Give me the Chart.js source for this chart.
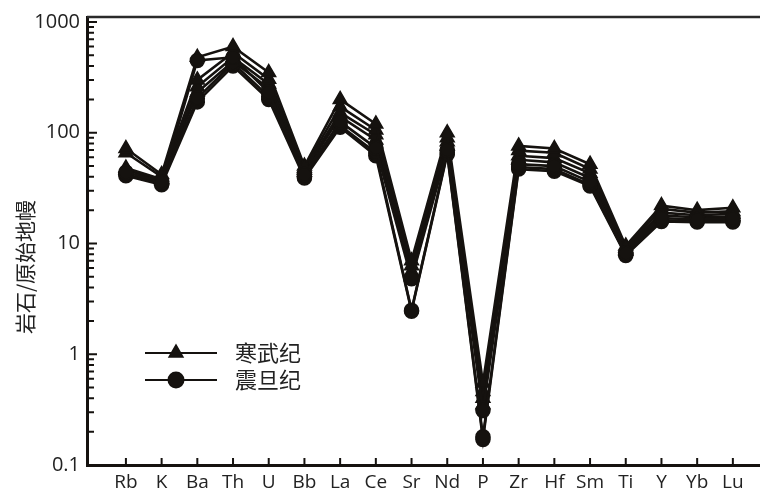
<!DOCTYPE html>
<html>
<head>
<meta charset="utf-8">
<script src="https://cdn.jsdelivr.net/npm/chart.js@4/dist/chart.umd.min.js"></script>
<style>
  html, body { margin: 0; padding: 0; background: #fff; }
  #wrap { width: 760px; height: 490px; }
</style>
</head>
<body>
<div id="wrap"><canvas id="spider" width="760" height="490"></canvas></div>
<script>
const elements = ['Rb', 'K', 'Ba', 'Th', 'U', 'Bb', 'La', 'Ce', 'Sr', 'Nd', 'P', 'Zr', 'Hf', 'Sm', 'Ti', 'Y', 'Yb', 'Lu'];
const yTicks = [0.1, 1, 10, 100, 1000];

// 寒武纪 samples (triangles)
const cambrian1 = [72, 42, 480, 600, 350, 50, 200, 120, 7.0, 100, 0.55, 76, 72, 52, 9.5, 22, 20, 21];
const cambrian2 = [66, 40, 300, 530, 305, 48, 172, 106, 6.3, 90, 0.46, 69, 66, 47, 9.1, 20.5, 19, 19.5];
const cambrian3 = [48, 38, 260, 480, 275, 46, 152, 96, 5.6, 83, 0.40, 62, 59, 43, 8.8, 19, 18, 18.5];
const cambrian4 = [46, 37, 232, 440, 252, 44, 140, 86, 5.0, 76, 0.35, 57, 54, 39, 8.5, 18, 17.2, 17.5];

// 震旦纪 samples (circles)
const sinian1 = [44, 36, 450, 480, 232, 42, 126, 73, 4.8, 70, 0.31, 52, 50, 36, 8.2, 17, 16.5, 16.8];
const sinian2 = [42, 35, 205, 425, 212, 40, 116, 66, 2.5, 66, 0.18, 49, 47, 34, 8.0, 16.2, 16, 16];
const sinian3 = [41, 34, 190, 400, 200, 39, 112, 62, 2.45, 64, 0.17, 47, 45, 33, 7.8, 15.8, 15.6, 15.6];

const ink = '#15120f';

function series(values, shape, radius) {
    return {
        data: values.map((v, i) => ({ x: i + 1, y: v })),
        borderColor: ink,
        backgroundColor: ink,
        borderWidth: 2.6,
        pointStyle: shape,
        pointRadius: radius,
        pointBorderWidth: 1.5,
        tension: 0
    };
}

const ticksInside = {
    id: 'ticksInside',
    afterDraw(chart) {
        const ctx = chart.ctx;
        const area = chart.chartArea;
        const ys = chart.scales.y;
        const xs = chart.scales.x;
        ctx.save();
        ctx.strokeStyle = ink;
        ctx.lineWidth = 2;
        ctx.beginPath();
        for (let d = -1; d <= 3; d++) {
            const base = Math.pow(10, d);
            let py = ys.getPixelForValue(base);
            ctx.moveTo(area.left, py);
            ctx.lineTo(area.left + 10, py);
            if (d < 3) {
                for (let k = 2; k <= 9; k++) {
                    py = ys.getPixelForValue(k * base);
                    ctx.moveTo(area.left, py);
                    ctx.lineTo(area.left + 7, py);
                }
            }
        }
        elements.forEach((el, i) => {
            const px = xs.getPixelForValue(i + 1);
            ctx.moveTo(px, area.bottom);
            ctx.lineTo(px, area.bottom - 7);
        });
        ctx.stroke();

        // top frame line
        ctx.strokeStyle = '#2a2a2a';
        ctx.lineWidth = 2.5;
        ctx.beginPath();
        ctx.moveTo(area.left, area.top);
        ctx.lineTo(chart.width, area.top);
        ctx.stroke();

        // y axis title
        ctx.fillStyle = '#222';
        ctx.font = '21px "Noto Sans CJK SC"';
        ctx.textAlign = 'center';
        ctx.textBaseline = 'middle';
        ctx.translate(25, 267);
        ctx.rotate(-Math.PI / 2);
        ctx.fillText('岩石/原始地幔', 0, 0);
        ctx.restore();
    }
};

const legendInside = {
    id: 'legendInside',
    afterDraw(chart) {
        const ctx = chart.ctx;
        const rows = [
            { label: '寒武纪', shape: 'triangle', y: 353 },
            { label: '震旦纪', shape: 'circle', y: 380 }
        ];
        ctx.save();
        rows.forEach(r => {
            ctx.strokeStyle = ink;
            ctx.fillStyle = ink;
            ctx.lineWidth = 2;
            ctx.beginPath();
            ctx.moveTo(145, r.y);
            ctx.lineTo(217, r.y);
            ctx.stroke();
            Chart.helpers.drawPoint(ctx, { pointStyle: r.shape, radius: 7.5, borderWidth: 1, rotation: 0 }, 176, r.y);
            ctx.fill();
            ctx.fillStyle = '#222';
            ctx.font = '22px "Noto Sans CJK SC"';
            ctx.textAlign = 'left';
            ctx.textBaseline = 'middle';
            ctx.fillText(r.label, 235, r.y);
        });
        ctx.restore();
    }
};

new Chart(document.getElementById('spider'), {
    type: 'line',
    data: {
        datasets: [
            series(sinian1, 'circle', 7),
            series(sinian2, 'circle', 7),
            series(sinian3, 'circle', 7),
            series(cambrian1, 'triangle', 8),
            series(cambrian2, 'triangle', 8),
            series(cambrian3, 'triangle', 8),
            series(cambrian4, 'triangle', 8)
        ]
    },
    options: {
        responsive: false,
        animation: false,
        layout: { autoPadding: false, padding: { top: 17, right: 0, bottom: 0, left: 0 } },
        plugins: {
            legend: { display: false },
            tooltip: { enabled: false }
        },
        scales: {
            x: {
                type: 'linear',
                min: -0.09,
                max: 18.76,
                afterBuildTicks: scale => {
                    scale.ticks = elements.map((e, i) => ({ value: i + 1 }));
                },
                afterFit: scale => {
                    scale.height = 25;
                    scale.paddingLeft = 0;
                    scale.paddingRight = 0;
                },
                ticks: {
                    autoSkip: false,
                    maxRotation: 0,
                    padding: 6,
                    color: '#222',
                    font: { family: '"Open Sans"', size: 19 },
                    callback: value => elements[value - 1] || ''
                },
                grid: { display: false, drawTicks: false },
                border: { display: true, color: ink, width: 3 }
            },
            y: {
                type: 'logarithmic',
                min: 0.1,
                max: 1110,
                afterBuildTicks: scale => {
                    scale.ticks = yTicks.map(v => ({ value: v }));
                },
                afterFit: scale => {
                    scale.width = 87;
                    scale.paddingTop = 0;
                    scale.paddingBottom = 0;
                },
                ticks: {
                    padding: 7,
                    color: '#222',
                    font: { family: '"Open Sans"', size: 20 },
                    callback: value => String(value)
                },
                grid: { display: false, drawTicks: false },
                border: { display: true, color: ink, width: 3 }
            }
        }
    },
    plugins: [ticksInside, legendInside]
});
</script>
</body>
</html>
